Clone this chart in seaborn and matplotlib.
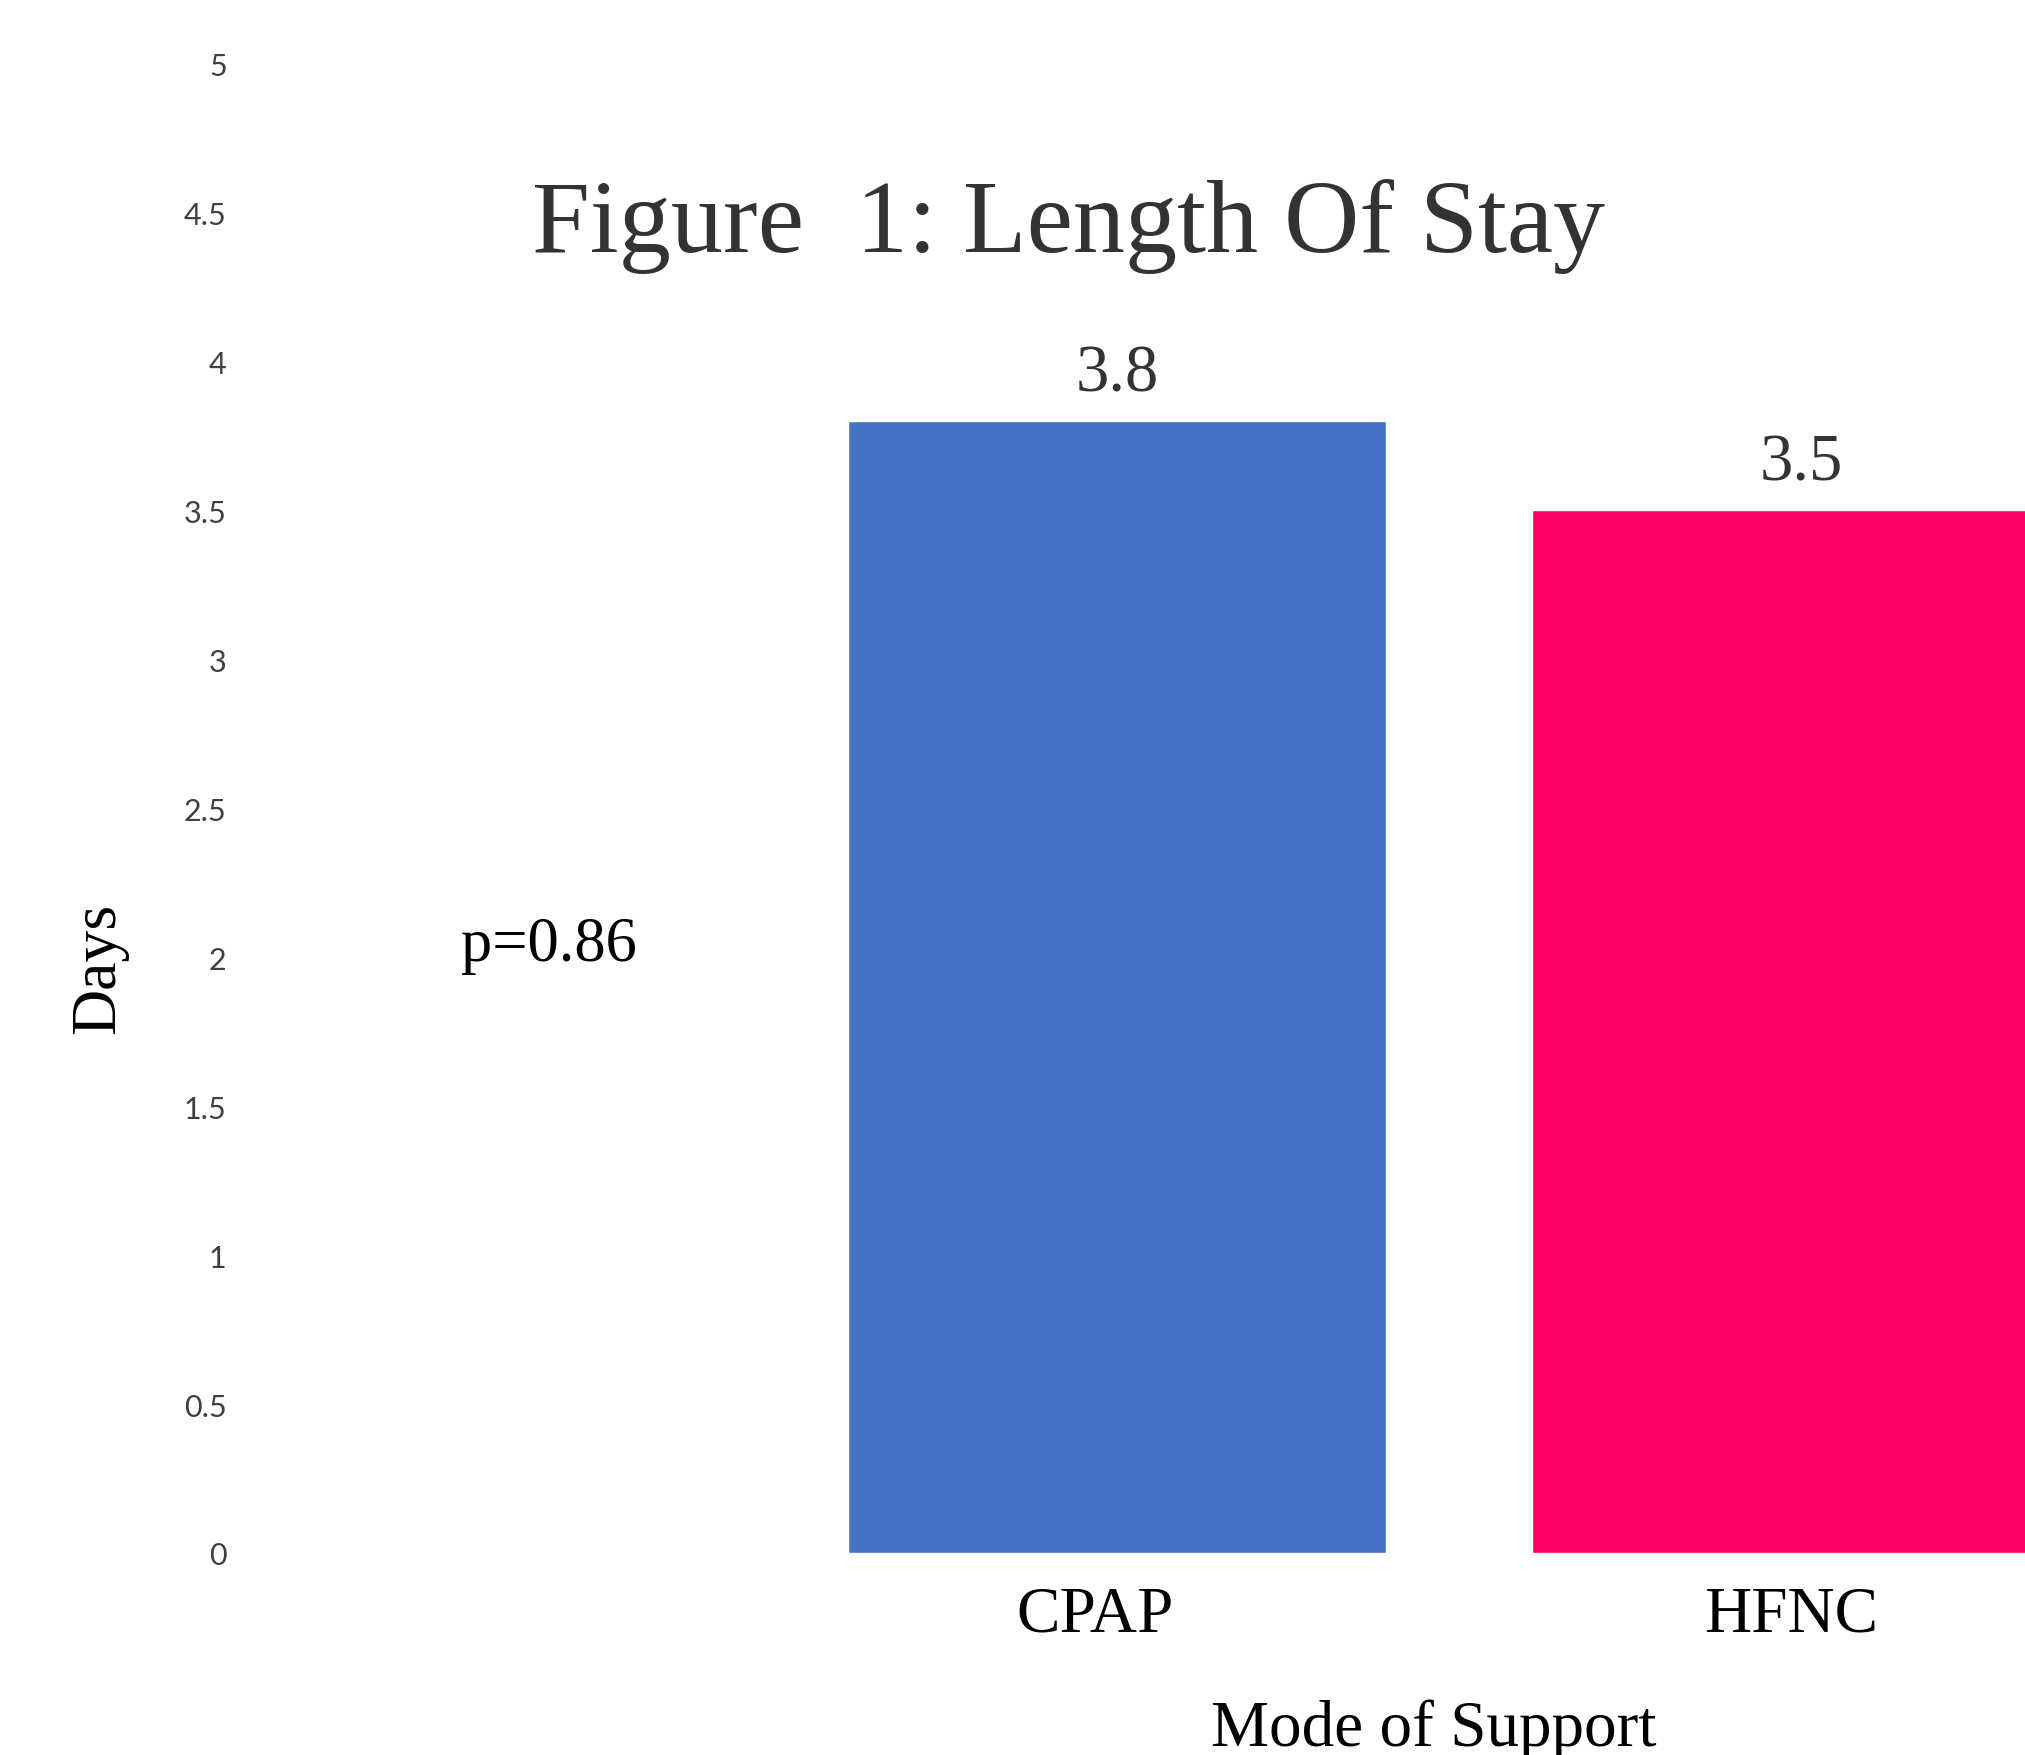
import matplotlib
matplotlib.use("Agg")
import matplotlib.pyplot as plt
import seaborn as sns
import pandas as pd

# data
modes = ["CPAP", "HFNC"]
days = [3.8, 3.5]
bar_colors = ["#4472C4", "#FF0066"]
y_ticks = [0, 0.5, 1, 1.5, 2, 2.5, 3, 3.5, 4, 4.5, 5]
y_tick_labels = ["0", "0.5", "1", "1.5", "2", "2.5", "3", "3.5", "4", "4.5", "5"]
p_text = "p=0.86"

df = pd.DataFrame({"mode": modes, "days": days})

sns.set_style("white")
serif = ["Liberation Serif", "DejaVu Serif"]

fig = plt.figure(figsize=(20.25, 17.56), dpi=100)
ax = fig.add_axes([260 / 2025, 202 / 1756, 1 - 260 / 2025, 1489.4 / 1756])

sns.barplot(data=df, x="mode", y="days", hue="mode", palette=bar_colors,
            width=0.787, legend=False, saturation=1, ax=ax)

ax.set_ylim(0, 5)
ax.set_xlim(-1.253, 1.327)
sns.despine(ax=ax, left=True, bottom=True)

ax.set_yticks(y_ticks)
ax.set_yticklabels(y_tick_labels, fontsize=22, color="#404040", family=["Lato", "DejaVu Sans"])
ax.tick_params(axis="y", length=0, pad=24)
# category labels sit a little left of the bar centres in the original
ax.set_xticks([i - s for i, s in zip(range(len(modes)), [0.032, 0.015])], labels=modes)
ax.tick_params(axis="x", length=0, pad=23)
for lab in ax.get_xticklabels():
    lab.set_fontsize(47)
    lab.set_family(serif)
    lab.set_color("black")

# value labels on top of bars
for cont, v in zip(ax.containers, days):
    ax.bar_label(cont, labels=[f"{v}"], padding=12, fontsize=48,
                 color="#333333", family=serif)

ax.set_ylabel("Days", fontsize=46, family=serif, color="black")
ax.yaxis.set_label_coords(-0.0912, 0.393)
ax.yaxis.label.set_va("center")
ax.set_xlabel("Mode of Support", fontsize=47, family=serif, color="black")
ax.xaxis.set_label_coords(0.665, -0.118)
ax.xaxis.label.set_va("center")

ax.text(-0.83, 2.04, p_text, fontsize=45, family=serif, color="black",
        ha="center", va="center")

fig.text(1069 / 2025, 1 - 227 / 1756, "Figure  1: Length Of Stay", fontsize=75,
         family=serif, color="#333333", ha="center", va="center")

fig.savefig("out.png", dpi=100)
